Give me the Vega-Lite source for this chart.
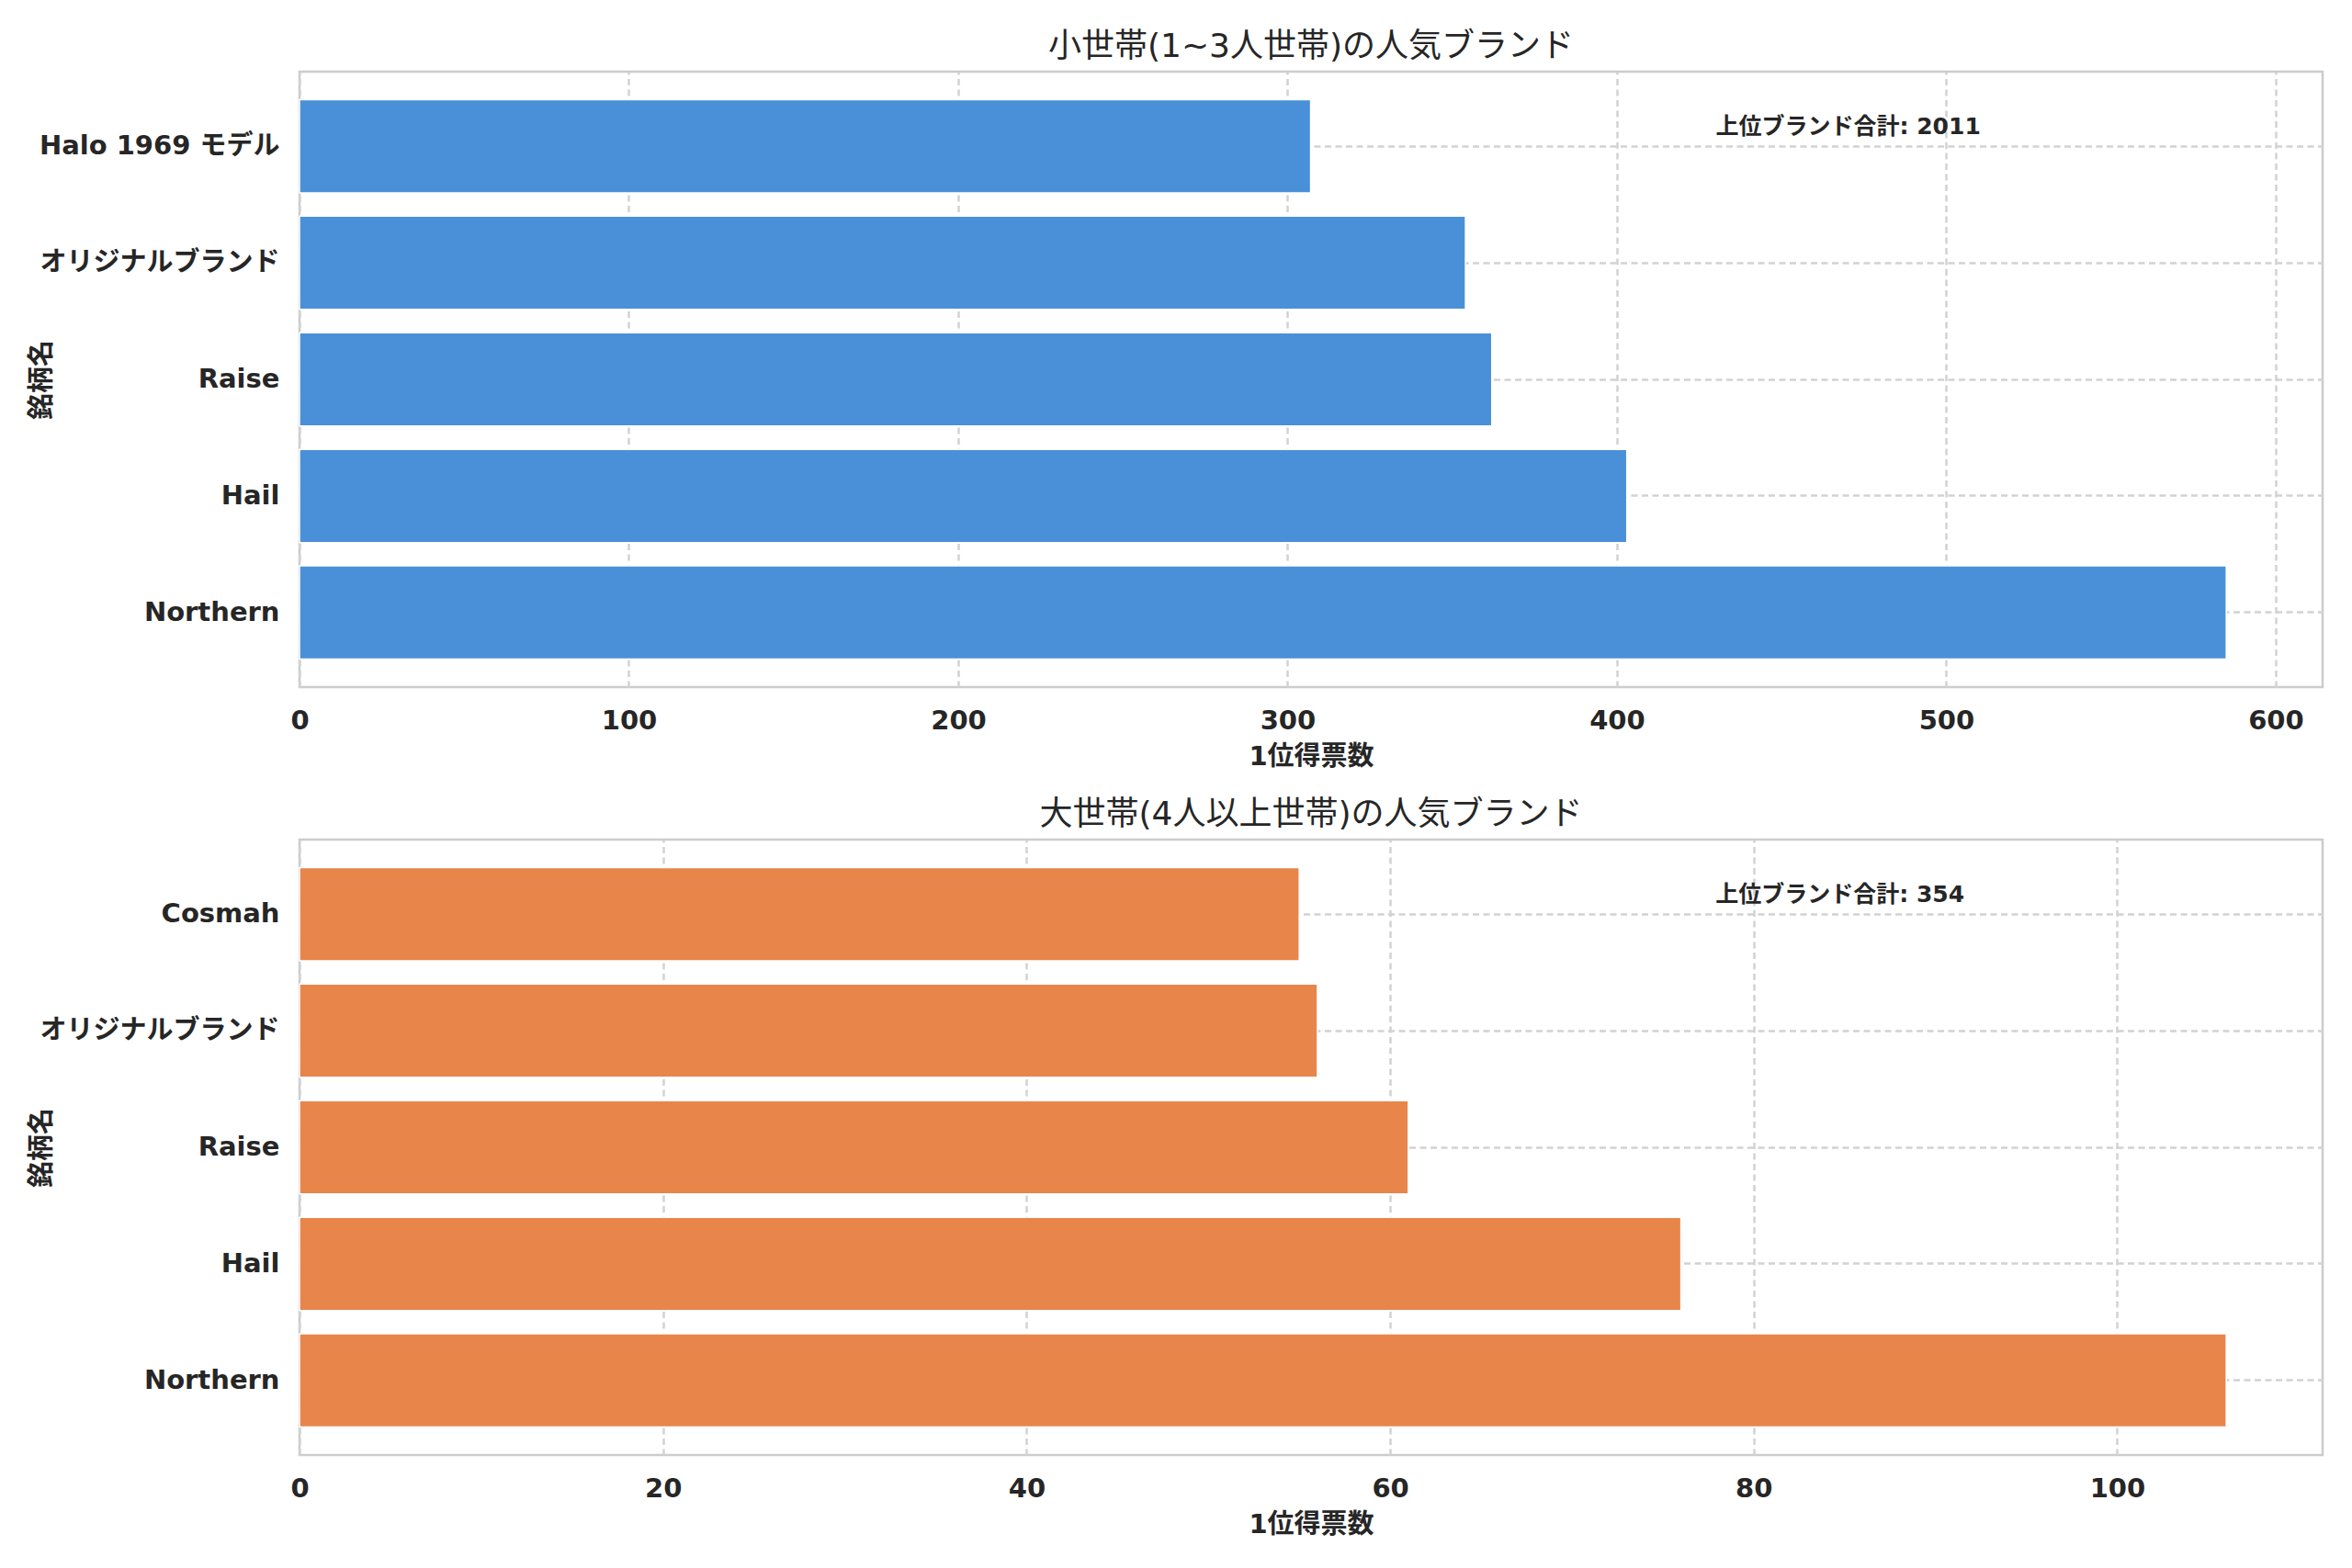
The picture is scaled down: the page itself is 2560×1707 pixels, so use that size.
{
  "$schema": "https://vega.github.io/schema/vega-lite/v6.json",
  "padding": {"left": 29, "top": 31, "right": 31, "bottom": 10},
  "autosize": {"type": "pad"},
  "background": "white",
  "config": {
    "font": "DejaVu Sans, Noto Sans CJK JP",
    "view": {"stroke": "#cccccc", "strokeWidth": 2.5},
    "axis": {
      "domain": false,
      "ticks": false,
      "grid": true,
      "gridColor": "#d2d2d2",
      "gridWidth": 2.5,
      "gridDash": [7, 4.5],
      "labelColor": "#262626",
      "titleColor": "#262626",
      "labelFont": "DejaVu Sans, Noto Sans CJK JP",
      "titleFont": "DejaVu Sans, Noto Sans CJK JP",
      "labelFontSize": 29,
      "labelFontWeight": "bold",
      "labelLimit": 0,
      "labelFlush": false,
      "titleFontSize": 29,
      "titleFontWeight": "bold"
    },
    "title": {"fontSize": 36, "fontWeight": "normal", "color": "#262626", "offset": 8, "font": "DejaVu Sans, Noto Sans CJK JP"},
    "concat": {"spacing": 27}
  },
  "datasets": {
    "small": [
      {"brand": "Halo 1969 モデル", "votes": 307},
      {"brand": "オリジナルブランド", "votes": 354},
      {"brand": "Raise", "votes": 362},
      {"brand": "Hail", "votes": 403},
      {"brand": "Northern", "votes": 585}
    ],
    "small_note": [
      {"brand": "Halo 1969 モデル", "x": 430, "label": "上位ブランド合計: 2011"}
    ],
    "large": [
      {"brand": "Cosmah", "votes": 55},
      {"brand": "オリジナルブランド", "votes": 56},
      {"brand": "Raise", "votes": 61},
      {"brand": "Hail", "votes": 76},
      {"brand": "Northern", "votes": 106}
    ],
    "large_note": [
      {"brand": "Cosmah", "x": 77.9, "label": "上位ブランド合計: 354"}
    ]
  },
  "vconcat": [
    {
      "width": 2202,
      "height": 670,
      "title": "小世帯(1~3人世帯)の人気ブランド",
      "layer": [
        {
          "data": {"name": "small"},
          "mark": {"type": "bar", "color": "#4a90d9", "stroke": "white", "strokeWidth": 1.5},
          "encoding": {
            "y": {
              "field": "brand", "type": "nominal",
              "scale": {"domain": ["Halo 1969 モデル", "オリジナルブランド", "Raise", "Hail", "Northern"], "paddingInner": 0.2, "paddingOuter": 0.24},
              "axis": {"title": "銘柄名", "labelPadding": 22, "bandPosition": 0.5, "titleX": -266}
            },
            "x": {
              "field": "votes", "type": "quantitative",
              "scale": {"domain": [0, 614.25], "nice": false},
              "axis": {"title": "1位得票数", "values": [0, 100, 200, 300, 400, 500, 600], "labelPadding": 22, "titlePadding": 10}
            }
          }
        },
        {
          "data": {"name": "small_note"},
          "mark": {"type": "text", "align": "left", "baseline": "middle", "dy": -21, "fontSize": 25, "fontWeight": "bold", "color": "#262626"},
          "encoding": {
            "x": {"field": "x", "type": "quantitative"},
            "y": {"field": "brand", "type": "nominal"},
            "text": {"field": "label"}
          }
        }
      ]
    },
    {
      "width": 2202,
      "height": 670,
      "title": "大世帯(4人以上世帯)の人気ブランド",
      "layer": [
        {
          "data": {"name": "large"},
          "mark": {"type": "bar", "color": "#e8854b", "stroke": "white", "strokeWidth": 1.5},
          "encoding": {
            "y": {
              "field": "brand", "type": "nominal",
              "scale": {"domain": ["Cosmah", "オリジナルブランド", "Raise", "Hail", "Northern"], "paddingInner": 0.2, "paddingOuter": 0.24},
              "axis": {"title": "銘柄名", "labelPadding": 22, "bandPosition": 0.5, "titleX": -266}
            },
            "x": {
              "field": "votes", "type": "quantitative",
              "scale": {"domain": [0, 111.3], "nice": false},
              "axis": {"title": "1位得票数", "values": [0, 20, 40, 60, 80, 100], "labelPadding": 22, "titlePadding": 10}
            }
          }
        },
        {
          "data": {"name": "large_note"},
          "mark": {"type": "text", "align": "left", "baseline": "middle", "dy": -21, "fontSize": 25, "fontWeight": "bold", "color": "#262626"},
          "encoding": {
            "x": {"field": "x", "type": "quantitative"},
            "y": {"field": "brand", "type": "nominal"},
            "text": {"field": "label"}
          }
        }
      ]
    }
  ]
}
